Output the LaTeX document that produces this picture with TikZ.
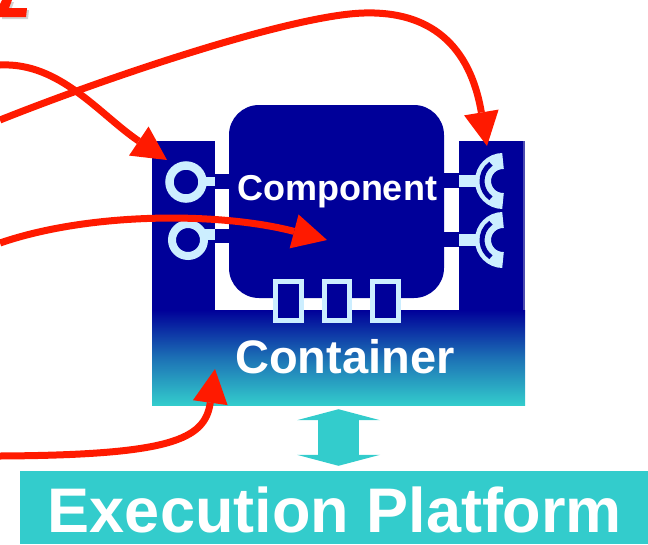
\documentclass[tikz,border=0pt]{standalone}
\usepackage{fontspec}
\setmainfont{Liberation Sans}
\usetikzlibrary{arrows.meta,calc}
\definecolor{navy}{RGB}{0,0,153}
\definecolor{portblue}{RGB}{204,238,255}
\definecolor{aqua}{RGB}{51,204,204}
\definecolor{arrowred}{RGB}{255,26,0}
\begin{document}
\begin{tikzpicture}[x=1pt,y=-1pt,
        redarrow/.style={line width=7pt,arrowred,-{Triangle[length=34pt,width=35pt,line width=0pt]}},
        label/.style={text=white,inner sep=0pt,anchor=base},
        portbox/.style={portblue,line width=5pt,fill=navy},
        cup/.style={portblue,line width=16pt}]
    \useasboundingbox (0,0) rectangle (648,544);
    \fill[gray!35,shift={(2,2)}] (0,17) -- (26,17) -- (27,8) -- (9,8) -- (12,0) -- (2,0) -- (0,4) -- cycle;
    \fill[arrowred] (0,17) -- (26,17) -- (27,8) -- (9,8) -- (12,0) -- (2,0) -- (0,4) -- cycle;
    % container
    \fill[navy] (152,141) rectangle (215,310);
    \fill[navy] (459,141) rectangle (523,310);
    \draw[blue!40!gray,line width=1.5pt] (524,141) -- (524,310);
    \node[top color=navy,bottom color=aqua,middle color=navy!45!aqua,minimum width=373pt,minimum height=95pt,inner sep=0pt] (container) at (338.5,357.5) {};
    \node[label,font=\bfseries\fontsize{47}{50}\selectfont] (containertext) at (345,373) {Container};
    % component
    \node[fill=navy,rounded corners=30pt,minimum width=215pt,minimum height=193pt,inner sep=0pt] (comp) at (336.5,201.5) {};
    \node[label,font=\bfseries\fontsize{36}{40}\selectfont] (comptext) at (337,200) {Component};
    % provided ports
    \fill[navy] (210,174) rectangle (232,189);
    \fill[portblue] (204,177) rectangle (215,186);
    \draw[portblue,line width=8.5pt] (186,182) circle[radius=16.5];
    \fill[navy] (210,229) rectangle (232,243);
    \fill[portblue] (204,229) rectangle (215,240);
    \draw[portblue,line width=8pt] (188,240) circle[radius=16];
    % required ports
    \fill[navy] (440,173) rectangle (462,188);
    \fill[portblue] (459,175) rectangle (480,187);
    \draw[cup] (503,161) arc[start angle=270,end angle=90,radius=20];
    \draw[navy,line width=5pt] ($(503,181)+(235:21)$) arc[start angle=235,end angle=125,radius=21];
    \fill[navy] (440,232) rectangle (462,247);
    \fill[portblue] (459,234) rectangle (480,246);
    \draw[cup] (503,220) arc[start angle=270,end angle=90,radius=20];
    \draw[navy,line width=5pt] ($(503,240)+(235:21)$) arc[start angle=235,end angle=125,radius=21];
    % event ports
    \draw[portbox] (275.5,281.5) rectangle (301.5,320.5);
    \draw[portbox] (324.5,281.5) rectangle (349.5,320.5);
    \draw[portbox] (372.5,281.5) rectangle (398.5,320.5);
    % platform
    \node[fill=aqua,minimum width=628pt,minimum height=73pt,inner sep=0pt] (platform) at (334,507.5) {};
    \node[label,font=\bfseries\fontsize{63}{66}\selectfont] (platformtext) at (335,532) {Execution Platform};
    \draw[aqua,line width=41pt,{Triangle[length=11pt,width=83pt,line width=0pt]}-{Triangle[length=11pt,width=83pt,line width=0pt]},shorten <=4pt,shorten >=5pt] (container.south) -- (container.south |- platform.north);
    % red arrows
    \coordinate (srcA) at (0,65);
    \coordinate (srcB) at (0,120);
    \coordinate (srcC) at (0,243);
    \coordinate (srcD) at (0,456);
    \coordinate (tipA) at (167,160);
    \coordinate (tipB) at (487,146);
    \coordinate (tipC) at (327,240);
    \coordinate (tipD) at (215,369);
    \draw[redarrow] (srcA) .. controls (60,62) and (100,115) .. (tipA);
    \draw[redarrow] (srcB) .. controls (100,80) and (290,15) .. (364,13) .. controls (430,11) and (470,45) .. (tipB);
    \draw[redarrow] (srcC) .. controls (90,212) and (220,212) .. (tipC);
    \draw[redarrow] (srcD) .. controls (170,455) and (205,440) .. (tipD);
\end{tikzpicture}
\end{document}
